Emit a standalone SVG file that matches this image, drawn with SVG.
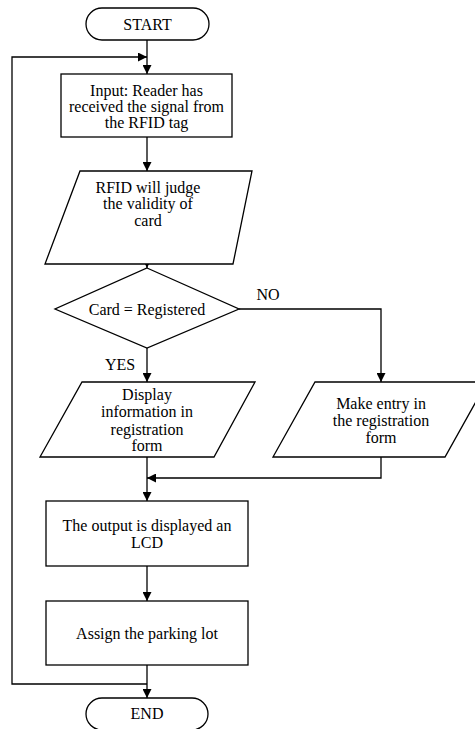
<svg xmlns="http://www.w3.org/2000/svg" width="475" height="729" viewBox="0 0 475 729">
<style>
.s{fill:#fff;stroke:#000;stroke-width:1.3}
.c{fill:none;stroke:#000;stroke-width:1.3}
text{font-family:"Liberation Serif","Times New Roman",serif;font-size:16px;fill:#000;text-anchor:middle}
</style>
<defs>
<marker id="a" markerUnits="userSpaceOnUse" markerWidth="9" markerHeight="9" refX="9" refY="4.5" orient="auto" viewBox="0 0 9 9">
<path d="M0,0 L9,4.5 L0,9 z" fill="#000"/>
</marker>
</defs>
<g id="connectors">
<path class="c" d="M147,40 V74" marker-end="url(#a)"/>
<path class="c" d="M147,684 H12 V57 H147" marker-end="url(#a)"/>
<path class="c" d="M147,137 V171" marker-end="url(#a)"/>
<path class="c" d="M147,264 V268" marker-end="url(#a)"/>
<path class="c" d="M147,348 V382" marker-end="url(#a)"/>
<path class="c" d="M239,309 H381 V382" marker-end="url(#a)"/>
<path class="c" d="M147,457 V501" marker-end="url(#a)"/>
<path class="c" d="M381,457 V478 H147" marker-end="url(#a)"/>
<path class="c" d="M147,566 V601" marker-end="url(#a)"/>
<path class="c" d="M147,665 V698" marker-end="url(#a)"/>
</g>
<g id="start">
<rect class="s" x="86" y="8" width="123" height="32" rx="16"/>
<text x="147.5" y="29.5">START</text>
</g>
<g id="input">
<rect class="s" x="61" y="74" width="171" height="63"/>
<text x="146.5" y="95.5">Input: Reader has</text>
<text x="146.5" y="111.5">received the signal from</text>
<text x="146.5" y="127.5">the RFID tag</text>
</g>
<g id="judge">
<polygon class="s" points="80,171 252,171 233,264 45,264"/>
<text x="148" y="192.5">RFID will judge</text>
<text x="148" y="208.5">the validity of</text>
<text x="148" y="225.5">card</text>
</g>
<g id="decision">
<polygon class="s" points="147,268 239,309 147,348 55,309"/>
<text x="147" y="314.5">Card = Registered</text>
</g>
<text x="268" y="300">NO</text>
<text x="120" y="370">YES</text>
<g id="display">
<polygon class="s" points="82,382 255,382 214,457 40,457"/>
<text x="147" y="399.5">Display</text>
<text x="147" y="417">information in</text>
<text x="147" y="434.5">registration</text>
<text x="147" y="450.5">form</text>
</g>
<g id="entry">
<polygon class="s" points="315,382 487,382 445,457 273,457"/>
<text x="381" y="408.5">Make entry in</text>
<text x="381" y="425.5">the registration</text>
<text x="381" y="442.5">form</text>
</g>
<g id="lcd">
<rect class="s" x="46" y="501" width="202" height="65"/>
<text x="147" y="530.5">The output is displayed an</text>
<text x="147" y="547.5">LCD</text>
</g>
<g id="assign">
<rect class="s" x="46" y="601" width="202" height="64"/>
<text x="147" y="638.5">Assign the parking lot</text>
</g>
<g id="end">
<rect class="s" x="86" y="698" width="122" height="32" rx="16"/>
<text x="147" y="718.5">END</text>
</g>
</svg>
